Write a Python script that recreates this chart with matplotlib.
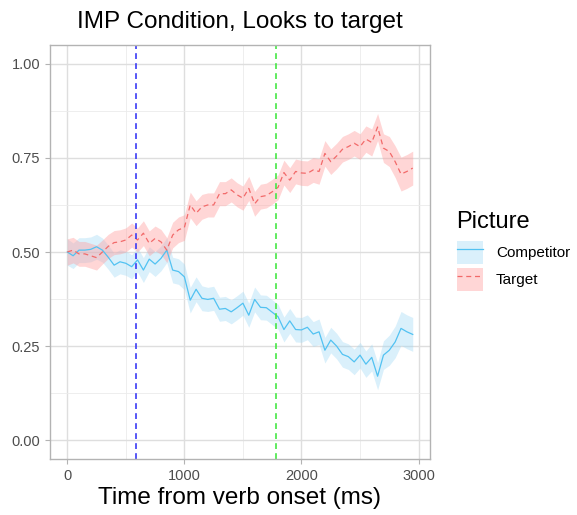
import matplotlib.pyplot as plt
import numpy as np
from matplotlib.patches import Patch
from matplotlib.lines import Line2D

plt.rcParams['font.family'] = ['Liberation Sans', 'DejaVu Sans']

# time bins (ms)
time = np.arange(0, 3000, 50)

# proportion of looks
target = [0.500, 0.505, 0.495, 0.495, 0.490, 0.485, 0.500, 0.515, 0.525, 0.527,
          0.532, 0.545, 0.532, 0.550, 0.523, 0.536, 0.527, 0.505, 0.545, 0.559,
          0.565, 0.625, 0.603, 0.620, 0.625, 0.625, 0.655, 0.655, 0.665, 0.652,
          0.643, 0.669, 0.628, 0.647, 0.650, 0.660, 0.672, 0.711, 0.691, 0.714,
          0.710, 0.709, 0.718, 0.714, 0.762, 0.740, 0.755, 0.773, 0.780, 0.789,
          0.780, 0.800, 0.791, 0.832, 0.776, 0.767, 0.740, 0.707, 0.714, 0.723]
competitor = [0.500, 0.490, 0.505, 0.505, 0.507, 0.514, 0.505, 0.486, 0.465, 0.474,
              0.470, 0.461, 0.479, 0.452, 0.481, 0.468, 0.483, 0.505, 0.452, 0.448,
              0.434, 0.372, 0.401, 0.377, 0.374, 0.377, 0.348, 0.350, 0.341, 0.352,
              0.364, 0.332, 0.374, 0.353, 0.352, 0.340, 0.328, 0.294, 0.317, 0.294,
              0.293, 0.300, 0.282, 0.288, 0.239, 0.266, 0.250, 0.228, 0.222, 0.208,
              0.226, 0.202, 0.220, 0.170, 0.226, 0.239, 0.261, 0.297, 0.288, 0.281]
# half-width of the ribbons (standard error)
se = [0.035, 0.034, 0.033, 0.033, 0.033, 0.033, 0.032, 0.032, 0.032, 0.032,
      0.032, 0.032, 0.032, 0.033, 0.033, 0.033, 0.033, 0.033, 0.034, 0.034,
      0.034, 0.034, 0.033, 0.033, 0.032, 0.032, 0.032, 0.032, 0.032, 0.032,
      0.032, 0.032, 0.033, 0.033, 0.033, 0.033, 0.033, 0.033, 0.033, 0.033,
      0.033, 0.033, 0.033, 0.034, 0.034, 0.034, 0.034, 0.034, 0.034, 0.034,
      0.034, 0.035, 0.036, 0.036, 0.038, 0.040, 0.042, 0.045, 0.045, 0.045]

verb_line = 590
green_line = 1785

target = np.array(target)
competitor = np.array(competitor)
se = np.array(se)

blue = '#52C2F2'
red = '#F26A6A'

fig = plt.figure(figsize=(5.77, 5.15), dpi=100)
ax = fig.add_axes([50/577, 1 - 459/515, 380/577, 414/515])

ax.fill_between(time, competitor - se, competitor + se, color='#9ED8F5', alpha=0.38, lw=0)
ax.fill_between(time, target - se, target + se, color='#FF9E9E', alpha=0.42, lw=0)
ax.plot(time, competitor, color=blue, lw=0.9)
ax.plot(time, target, color=red, lw=0.9, dashes=(4, 3))

ax.axvline(verb_line, color='#3B3BF5', lw=1.2, ls=(0, (3.5, 2.5)))
ax.axvline(green_line, color='#45E845', lw=1.2, ls=(0, (3.5, 2.5)))

ax.set_xlim(-147.5, 3097.5)
ax.set_ylim(-0.05, 1.05)
ax.set_xticks([0, 1000, 2000, 3000])
ax.set_xticks([500, 1500, 2500], minor=True)
ax.set_yticks([0, 0.25, 0.5, 0.75, 1.0])
ax.set_yticklabels(['0.00', '0.25', '0.50', '0.75', '1.00'])
ax.set_yticks([0.125, 0.375, 0.625, 0.875], minor=True)
ax.grid(True, which='major', color='#DEDEDE', lw=1.0)
ax.grid(True, which='minor', color='#EBEBEB', lw=0.6)
ax.set_axisbelow(True)
for s in ax.spines.values():
    s.set_color('#B3B3B3')
    s.set_linewidth(1.0)
ax.tick_params(which='major', colors='#B3B3B3', labelcolor='#4D4D4D', labelsize=10.5, length=3.5)
ax.tick_params(which='minor', length=0)

fig.text(240/577, 1 - 28/515, 'IMP Condition, Looks to target', fontsize=17.5,
         ha='center', va='baseline')
ax.set_xlabel('Time from verb onset (ms)', fontsize=17.5, labelpad=3)

# legend: title drawn separately so the gap to the keys matches
fig.text(456/577, 1 - 228/515, 'Picture', fontsize=17, ha='left', va='baseline')
handles = [(Patch(facecolor='#9ED8F5', alpha=0.38), Line2D([], [], color=blue, lw=0.9)),
           (Patch(facecolor='#FF9E9E', alpha=0.42), Line2D([], [], color=red, lw=0.9, dashes=(4, 3)))]
leg = fig.legend(handles, ['Competitor', 'Target'], loc='upper left',
                 bbox_to_anchor=(457/577, 1 - 241/515), frameon=False, fontsize=11,
                 borderpad=0, borderaxespad=0, handlelength=1.7, handleheight=1.9,
                 handletextpad=0.85, labelspacing=0.3)

plt.savefig('out.png', dpi=100)
